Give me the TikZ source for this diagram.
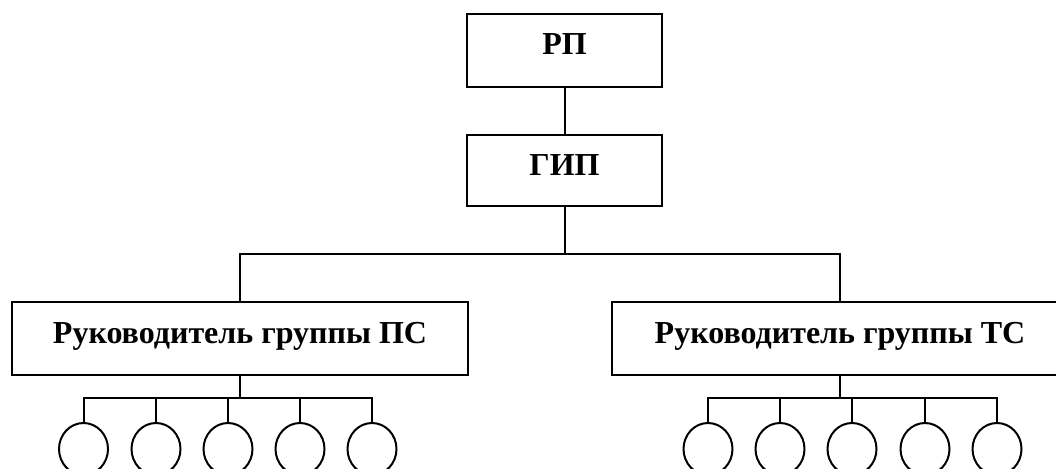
\documentclass[tikz,border=0pt]{standalone}
\usepackage{fontspec}
\setmainfont{Liberation Serif}
\usetikzlibrary{shapes.geometric}
\begin{document}
\begin{tikzpicture}[x=1pt,y=-1pt,
  line width=2pt,
  box/.style={draw, rectangle, inner sep=0pt, text height=41pt, text depth=32pt, anchor=base,
    font=\fontsize{32}{38}\selectfont\bfseries},
  member/.style={draw, ellipse, inner sep=0pt, minimum width=49pt, minimum height=52pt}]
\useasboundingbox (0,0) rectangle (1056,468);
\clip (0,0) rectangle (1056,468);
\node[box, minimum width=195pt] (rp) at (564.5,55) {РП};
\node[box, minimum width=195pt, text height=40pt, text depth=31pt] (gip) at (564.5,175) {ГИП};
\node[box, minimum width=456pt] (ps) at (240,343) {Руководитель группы ПС};
\node[box, minimum width=456pt] (ts) at (840,343) {Руководитель группы ТС};
\coordinate (j) at (564.5,254);
\coordinate (lj) at (240,398);
\coordinate (rj) at (840,398);
\foreach \i/\x in {1/83.5,2/156,3/228,4/300,5/372,6/708,7/780,8/852,9/925,10/997}
  \node[member] (c\i) at (\x,449) {};
\draw (rp) -- (gip);
\draw (gip) -- (j);
\draw (ps.north) |- (j) -| (ts.north);
\draw (ps) -- (lj);
\draw (ts) -- (rj);
\draw (c1.north) |- (lj) -| (c5.north);
\draw (c6.north) |- (rj) -| (c10.north);
\foreach \i in {2,3,4} \draw (c\i.north) -- (c\i.north |- lj);
\foreach \i in {7,8,9} \draw (c\i.north) -- (c\i.north |- rj);
\end{tikzpicture}
\end{document}
